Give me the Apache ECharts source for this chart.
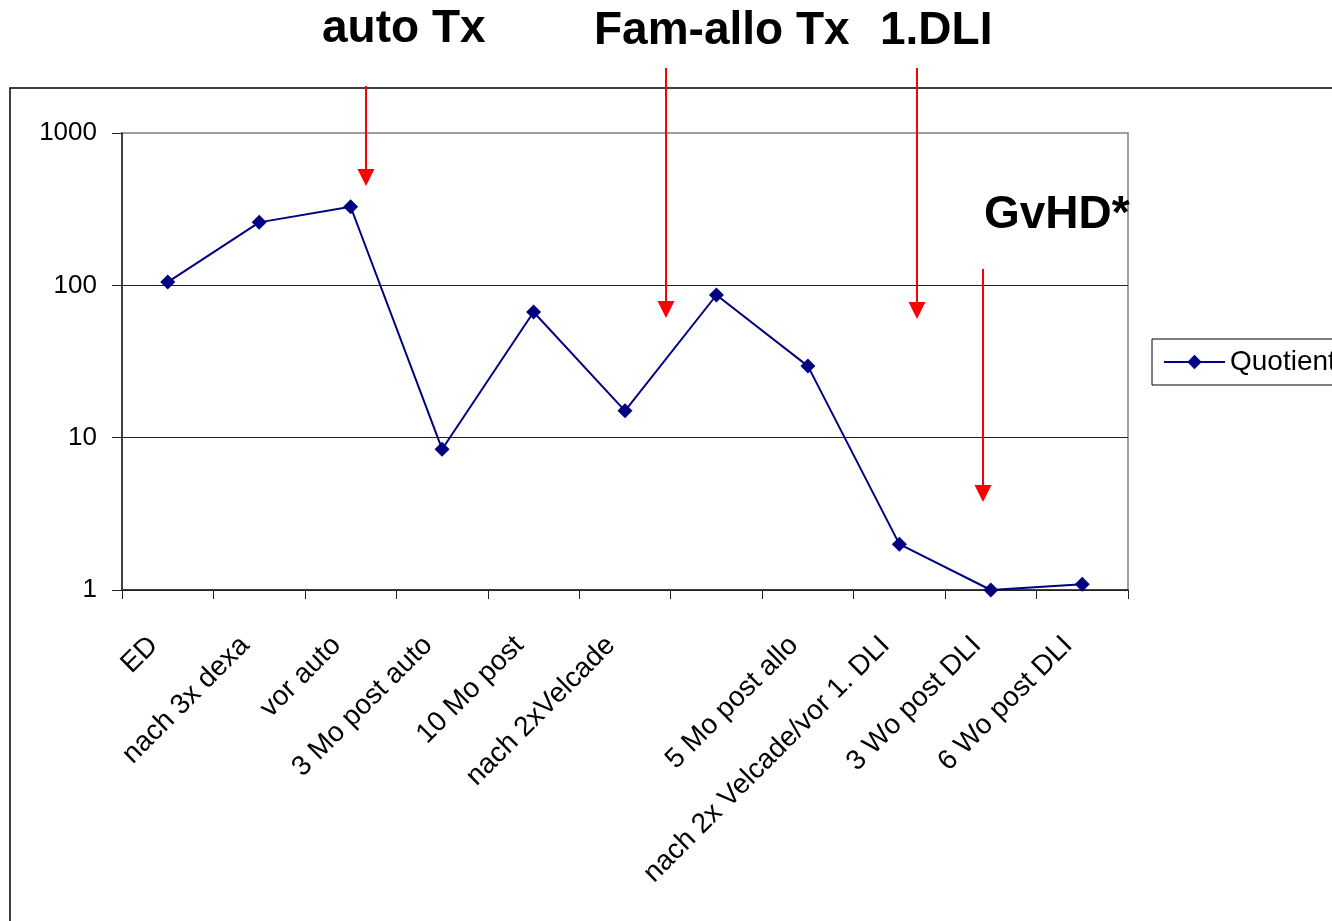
<!DOCTYPE html>
<html>
<head>
<meta charset="utf-8">
<script src="https://cdn.jsdelivr.net/npm/echarts@6/dist/echarts.min.js"></script>
<style>
  html, body { margin: 0; padding: 0; background: #fff; }
  #main { width: 1332px; height: 921px; }
</style>
</head>
<body>
<div id="main"></div>
<script>
// Kategorien (eine Beschriftung fehlt im Original)
var categories = ['ED', 'nach 3x dexa', 'vor auto', '3 Mo post auto', '10 Mo post',
    'nach 2xVelcade', '', '5 Mo post allo', 'nach 2x Velcade/vor 1. DLI',
    '3 Wo post DLI', '6 Wo post DLI'];
var quotient = [105, 259, 328, 8.4, 66.8, 15.0, 86.4, 29.5, 2.0, 1.0, 1.09];
var yTicks = [1, 10, 100, 1000];

var FONT = '"Liberation Sans", Arial, sans-serif';

// Annotationen: Pfeile (x, y Start, y Spitze) und Texte
var arrows = [[366, 86, 186], [666, 68, 318], [917, 68, 319], [983, 269, 502]];
var notes = [
    { text: 'auto Tx', x: 322, y: 29 },
    { text: 'Fam-allo Tx', x: 594, y: 31 },
    { text: '1.DLI', x: 880, y: 31 },
    { text: 'GvHD*', x: 984, y: 215 }
];

var chart = echarts.init(document.getElementById('main'));

var graphics = [{
    type: 'rect',
    shape: { x: 10, y: 88, width: 1500, height: 1000 },
    style: { fill: 'none', stroke: '#000', lineWidth: 1.5 },
    z: 0
}];
arrows.forEach(function (a) {
    var head = 17;
    graphics.push({
        type: 'line',
        shape: { x1: a[0], y1: a[1], x2: a[0], y2: a[2] - head + 2 },
        style: { stroke: '#ff0000', lineWidth: 2 },
        z: 10
    });
    graphics.push({
        type: 'polygon',
        shape: { points: [[a[0] - 8.5, a[2] - head], [a[0] + 8.5, a[2] - head], [a[0], a[2]]] },
        style: { fill: '#ff0000' },
        z: 10
    });
});
notes.forEach(function (n) {
    graphics.push({
        type: 'text',
        x: n.x, y: n.y,
        style: {
            text: n.text, fill: '#000', fontFamily: FONT, fontWeight: 'bold',
            fontSize: 46, verticalAlign: 'middle', align: 'left'
        },
        z: 10
    });
});

chart.setOption({
    animation: false,
    textStyle: { fontFamily: FONT },
    grid: {
        left: 122, top: 133, right: 204, bottom: 331,
        show: true, borderColor: '#808080', borderWidth: 1.5
    },
    legend: {
        data: ['Quotient'],
        left: 1152, top: 339,
        orient: 'vertical',
        borderColor: '#000', borderWidth: 1,
        padding: [9, 8, 9, 11],
        itemWidth: 61, itemHeight: 18, itemGap: 6,
        textStyle: { fontSize: 28, color: '#000', fontFamily: FONT }
    },
    xAxis: {
        type: 'category',
        data: categories,
        boundaryGap: true,
        axisLine: { lineStyle: { color: '#222', width: 1.5 } },
        axisTick: { show: true, length: 9, interval: 0, lineStyle: { color: '#222' } },
        axisLabel: {
            interval: 0, rotate: 45, margin: 37, fontSize: 28, color: '#000',
            padding: [0, 20, 0, 0]
        },
        splitLine: { show: false }
    },
    yAxis: {
        type: 'log',
        logBase: 10,
        min: yTicks[0],
        max: yTicks[yTicks.length - 1],
        axisLine: { show: true, lineStyle: { color: '#222', width: 1.5 } },
        axisTick: { show: true, length: 10, lineStyle: { color: '#222' } },
        axisLabel: {
            fontSize: 26, color: '#000', margin: 25,
            formatter: function (v) { return String(Math.round(v)); }
        },
        splitLine: { show: true, showMaxLine: false, lineStyle: { color: '#222', width: 1 } }
    },
    series: [{
        name: 'Quotient',
        type: 'line',
        data: quotient,
        symbol: 'diamond',
        symbolSize: 15,
        lineStyle: { color: '#000080', width: 2 },
        itemStyle: { color: '#000080' }
    }],
    graphic: graphics
});
</script>
</body>
</html>
